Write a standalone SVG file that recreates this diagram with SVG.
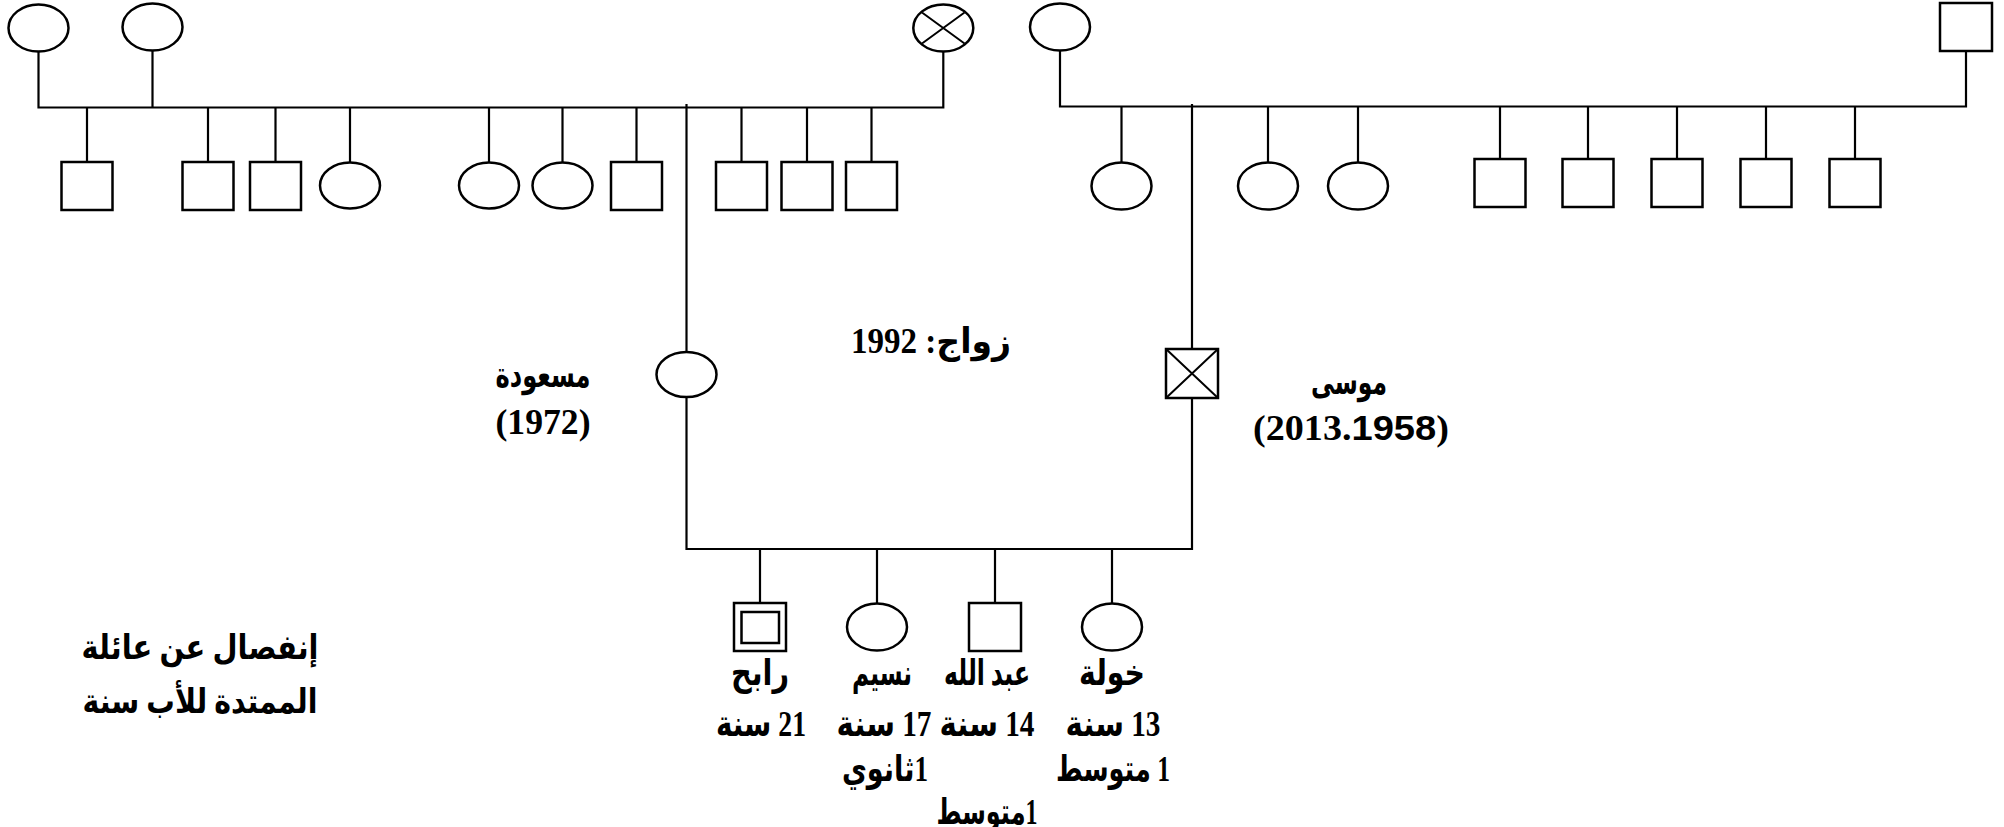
<svg xmlns="http://www.w3.org/2000/svg" width="2004" height="827" viewBox="0 0 2004 827">
<style>
.s{fill:#fff;stroke:#000;stroke-width:2.5}
.x{stroke:#000;stroke-width:2;fill:none}
.l{stroke:#000;stroke-width:2.2;fill:none}
.t{font-family:"Liberation Serif","DejaVu Sans",serif;font-weight:bold;fill:#000;text-anchor:middle}
.c{font-size:36px}
.p{font-size:35px}
</style>
<rect width="2004" height="827" fill="#fff"/>
<g id="connectors" class="l">
<path d="M38.5 51.5V107.5H943.3V51.5M152.5 50.5V107.5"/>
<path d="M87 107.5V162M208 107.5V162M275.5 107.5V162M350 107.5V163M489 107.5V163M562.5 107.5V163M636.5 107.5V162M741.5 107.5V162M807 107.5V162M871.5 107.5V162"/>
<path d="M686.5 104V352"/>
<path d="M1060 50.5V106.5H1966V51M1121.5 106.5V163M1268 106.5V163M1358 106.5V163M1500 106.5V159M1588 106.5V159M1677 106.5V159M1766 106.5V159M1855 106.5V159"/>
<path d="M1192 104V349"/>
<path d="M686.5 397V549H1192V398"/>
<path d="M760 549V603M877 549V603.5M995 549V603M1112 549V603.5"/>
</g>
<g id="gp-left-1"><ellipse class="s" cx="38.5" cy="28" rx="30" ry="23.5"/></g>
<g id="gp-left-2"><ellipse class="s" cx="152.5" cy="27" rx="30" ry="23.5"/></g>
<g id="gp-left-3"><ellipse class="s" cx="943.3" cy="28" rx="30" ry="23.5"/><path class="x" d="M922 12.5L964.5 43.5M964.5 12.5L922 43.5"/></g>
<g id="lc-1"><rect class="s" x="61.5" y="162" width="51" height="48"/></g>
<g id="lc-2"><rect class="s" x="182.5" y="162" width="51" height="48"/></g>
<g id="lc-3"><rect class="s" x="250" y="162" width="51" height="48"/></g>
<g id="lc-4"><ellipse class="s" cx="350" cy="185.5" rx="30" ry="23"/></g>
<g id="lc-5"><ellipse class="s" cx="489" cy="185.5" rx="30" ry="23"/></g>
<g id="lc-6"><ellipse class="s" cx="562.5" cy="185.5" rx="30" ry="23"/></g>
<g id="lc-7"><rect class="s" x="611" y="162" width="51" height="48"/></g>
<g id="lc-8"><rect class="s" x="716" y="162" width="51" height="48"/></g>
<g id="lc-9"><rect class="s" x="781.5" y="162" width="51" height="48"/></g>
<g id="lc-10"><rect class="s" x="846" y="162" width="51" height="48"/></g>
<g id="gp-right-1"><ellipse class="s" cx="1060" cy="27" rx="30" ry="23.5"/></g>
<g id="gp-right-2"><rect class="s" x="1940" y="3" width="52" height="48"/></g>
<g id="rc-1"><ellipse class="s" cx="1121.5" cy="186" rx="30" ry="23.5"/></g>
<g id="rc-2"><ellipse class="s" cx="1268" cy="186" rx="30" ry="23.5"/></g>
<g id="rc-3"><ellipse class="s" cx="1358" cy="186" rx="30" ry="23.5"/></g>
<g id="rc-4"><rect class="s" x="1474.5" y="159" width="51" height="48"/></g>
<g id="rc-5"><rect class="s" x="1562.5" y="159" width="51" height="48"/></g>
<g id="rc-6"><rect class="s" x="1651.5" y="159" width="51" height="48"/></g>
<g id="rc-7"><rect class="s" x="1740.5" y="159" width="51" height="48"/></g>
<g id="rc-8"><rect class="s" x="1829.5" y="159" width="51" height="48"/></g>
<g id="mother"><ellipse class="s" cx="686.5" cy="374.5" rx="30" ry="22.5"/>
<text class="t p" x="543" y="387" direction="rtl" textLength="95" lengthAdjust="spacingAndGlyphs">مسعودة</text>
<text class="t p" x="543" y="434" textLength="95" lengthAdjust="spacingAndGlyphs">(1972)</text></g>
<g id="father"><rect class="s" x="1166" y="349" width="52" height="49"/><path class="x" d="M1166 349L1218 398M1218 349L1166 398"/>
<text class="t p" x="1349" y="394" direction="rtl" textLength="76" lengthAdjust="spacingAndGlyphs">موسى</text>
<text class="t p" x="1351" y="440" textLength="196" lengthAdjust="spacingAndGlyphs">(2013.<tspan font-family="Liberation Sans, sans-serif">1958</tspan>)</text></g>
<g id="marriage"><text class="t p" x="931" y="353" direction="rtl" textLength="160" lengthAdjust="spacingAndGlyphs">زواج: 1992</text></g>
<g id="child-1"><rect class="s" x="734" y="603" width="52" height="48"/><rect class="s" x="741.5" y="612" width="37.5" height="31"/>
<text class="t c" x="760" y="685" direction="rtl" textLength="58" lengthAdjust="spacingAndGlyphs">رابح</text>
<text class="t c" x="761" y="736" direction="rtl" textLength="90" lengthAdjust="spacingAndGlyphs">21 سنة</text></g>
<g id="child-2"><ellipse class="s" cx="877" cy="627" rx="30" ry="23.5"/>
<text class="t c" x="882" y="685" direction="rtl" textLength="60" lengthAdjust="spacingAndGlyphs">نسيم</text>
<text class="t c" x="884" y="736" direction="rtl" textLength="95" lengthAdjust="spacingAndGlyphs">17 سنة</text>
<text class="t c" x="885" y="781" direction="rtl" textLength="86" lengthAdjust="spacingAndGlyphs">1ثانوي</text></g>
<g id="child-3"><rect class="s" x="969" y="603" width="52" height="48"/>
<text class="t c" x="987" y="685" direction="rtl" textLength="86" lengthAdjust="spacingAndGlyphs">عبد الله</text>
<text class="t c" x="987" y="736" direction="rtl" textLength="95" lengthAdjust="spacingAndGlyphs">14 سنة</text>
<text class="t c" x="987" y="824" direction="rtl" textLength="101" lengthAdjust="spacingAndGlyphs">1متوسط</text></g>
<g id="child-4"><ellipse class="s" cx="1112" cy="627" rx="30" ry="23.5"/>
<text class="t c" x="1112" y="685" direction="rtl" textLength="66" lengthAdjust="spacingAndGlyphs">خولة</text>
<text class="t c" x="1113" y="736" direction="rtl" textLength="95" lengthAdjust="spacingAndGlyphs">13 سنة</text>
<text class="t c" x="1113" y="781" direction="rtl" textLength="114" lengthAdjust="spacingAndGlyphs">1 متوسط</text></g>
<g id="note">
<text class="t" font-size="34" x="200" y="659" direction="rtl" textLength="237" lengthAdjust="spacingAndGlyphs">إنفصال عن عائلة</text>
<text class="t" font-size="34" x="200" y="713" direction="rtl" textLength="235" lengthAdjust="spacingAndGlyphs">الممتدة للأب سنة</text></g>
</svg>
